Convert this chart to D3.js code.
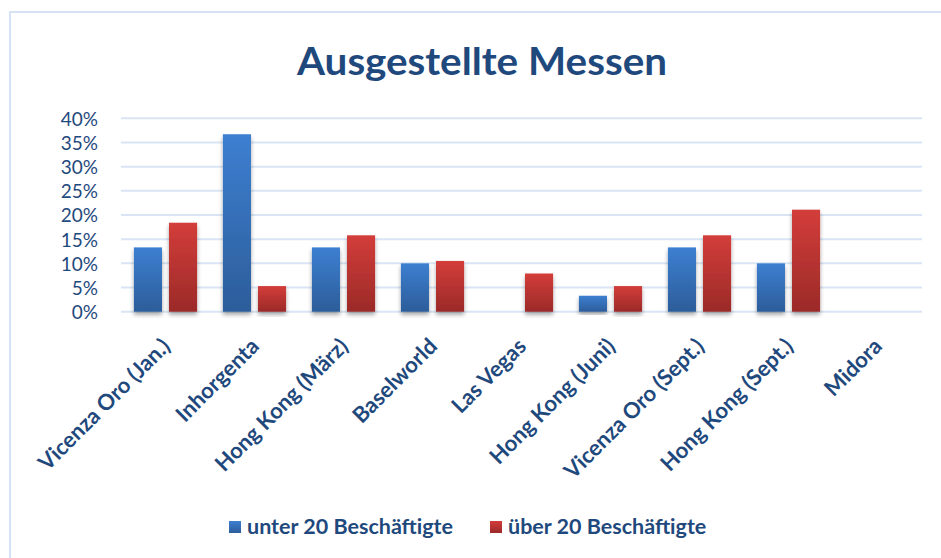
<!DOCTYPE html>
<html>
<head>
<meta charset="utf-8">
<script src="https://cdn.jsdelivr.net/npm/d3@7"></script>
<style>
  html, body { margin: 0; padding: 0; background: #fff; }
  svg { display: block; font-family: Lato, "Open Sans", sans-serif; }
</style>
</head>
<body>
<div id="chart"></div>
<script>
// data
const categories = ["Vicenza Oro (Jan.)", "Inhorgenta", "Hong Kong (März)", "Baselworld",
  "Las Vegas", "Hong Kong (Juni)", "Vicenza Oro (Sept.)", "Hong Kong (Sept.)", "Midora"];
const seriesNames = ["unter 20 Beschäftigte", "über 20 Beschäftigte"];
const unter20 = [0.133, 0.367, 0.133, 0.10, 0, 0.033, 0.133, 0.10, 0];
const ueber20 = [0.184, 0.053, 0.158, 0.105, 0.079, 0.053, 0.158, 0.211, 0];
const yTicks = [0, 0.05, 0.1, 0.15, 0.2, 0.25, 0.3, 0.35, 0.4];

const W = 941, H = 558;
const textColor = "#1f497d";

const svg = d3.select("#chart").append("svg").attr("width", W).attr("height", H);
const defs = svg.append("defs");

// bar gradients, top lighter -> bottom darker
const grads = [["gBlue", "#3d7fd1", "#2c5d9a"], ["gRed", "#d33d3a", "#9b2a28"]];
grads.forEach(([id, c1, c2]) => {
  const g = defs.append("linearGradient").attr("id", id)
    .attr("x1", 0).attr("y1", 0).attr("x2", 0).attr("y2", 1);
  g.append("stop").attr("offset", "0%").attr("stop-color", c1);
  g.append("stop").attr("offset", "100%").attr("stop-color", c2);
});

const shadow = defs.append("filter").attr("id", "shadow")
  .attr("x", "-20%").attr("y", "-20%").attr("width", "140%").attr("height", "140%");
shadow.append("feDropShadow").attr("dx", 0).attr("dy", 3).attr("stdDeviation", 2)
  .attr("flood-color", "#000").attr("flood-opacity", 0.35);

// chart frame
svg.append("rect").attr("x", 10).attr("y", 12).attr("width", W + 20).attr("height", H + 20)
  .attr("fill", "none").attr("stroke", "#d5e3f5").attr("stroke-width", 2);

// title
svg.append("text").attr("x", 482).attr("y", 75).attr("text-anchor", "middle")
  .attr("font-size", 38).attr("font-weight", "bold").attr("fill", textColor)
  .attr("textLength", 370).attr("lengthAdjust", "spacingAndGlyphs")
  .text("Ausgestellte Messen");

const x0 = d3.scaleBand().domain(categories).range([121, 922]).paddingInner(0.29).paddingOuter(0.145);
const x1 = d3.scaleBand().domain([0, 1]).range([0, x0.bandwidth()]).paddingInner(0.2);
const y = d3.scaleLinear().domain([0, 0.4]).range([311.7, 118.3]);

// gridlines
svg.append("g").selectAll("line").data(yTicks).enter().append("line")
  .attr("x1", 121).attr("x2", 922)
  .attr("y1", d => y(d)).attr("y2", d => y(d))
  .attr("stroke", "#d9e5f4").attr("stroke-width", 2);

// y axis labels
const yAxis = d3.axisLeft(y).tickValues(yTicks).tickFormat(d3.format(".0%")).tickSize(0).tickPadding(0);
const yg = svg.append("g").attr("transform", "translate(98,0)").call(yAxis);
yg.select(".domain").remove();
yg.selectAll("text").attr("font-size", 19).attr("fill", textColor)
  .attr("font-family", "Lato, sans-serif").attr("dy", "0.36em");

// bars
const series = [unter20, ueber20];
const groups = svg.append("g").selectAll("g").data(categories).enter().append("g")
  .attr("transform", d => `translate(${x0(d)},0)`);
groups.selectAll("rect").data((d, i) => series.map((s, k) => ({ k, v: s[i] })))
  .enter().filter(d => d.v > 0).append("rect")
  .attr("x", d => x1(d.k)).attr("width", x1.bandwidth())
  .attr("y", d => y(d.v)).attr("height", d => y(0) - y(d.v))
  .attr("fill", d => d.k === 0 ? "url(#gBlue)" : "url(#gRed)")
  .attr("filter", "url(#shadow)");

// x axis labels, rotated
const xAxis = d3.axisBottom(x0).tickSize(0).tickPadding(0);
const xg = svg.append("g").attr("transform", "translate(0,311.7)").call(xAxis);
xg.select(".domain").remove();
xg.selectAll("text")
  .attr("font-size", 22).attr("font-weight", "bold").attr("fill", textColor)
  .attr("font-family", "Lato, sans-serif")
  .attr("text-anchor", "end").attr("dy", 0).attr("y", 0)
  .attr("transform", "translate(6,36) rotate(-45)");

// legend
const legend = svg.append("g");
const legendX = [229, 490];
seriesNames.forEach((name, k) => {
  legend.append("rect").attr("x", legendX[k]).attr("y", 521).attr("width", 12).attr("height", 12)
    .attr("fill", k === 0 ? "url(#gBlue)" : "url(#gRed)");
  legend.append("text").attr("x", legendX[k] + 18).attr("y", 534)
    .attr("font-size", 21.5).attr("font-weight", "bold").attr("fill", textColor)
    .text(name);
});
</script>
</body>
</html>
